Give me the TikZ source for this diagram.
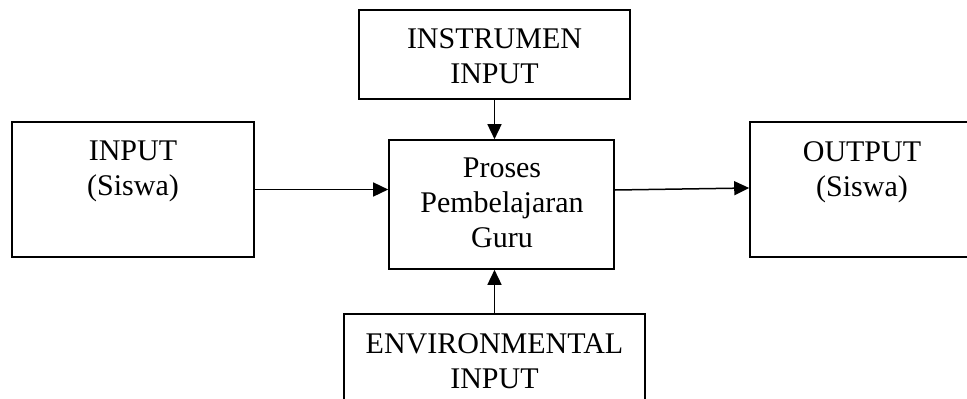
\documentclass[tikz,border=0pt]{standalone}
\usepackage{fontspec}
\setmainfont{Liberation Serif}
\usetikzlibrary{arrows.meta}
\begin{document}
\begin{tikzpicture}[x=1pt,y=-1pt,
  box/.style={draw, line width=1.6pt, rectangle, inner sep=0pt},
  lbl/.style={align=center, inner sep=0pt, anchor=north,
              font=\fontsize{30}{35}\selectfont},
  link/.style={line width=1.5pt, -{Triangle[length=15pt,width=14pt]}}]
\useasboundingbox (0,0) rectangle (967,399);

% boxes
\node[box, minimum width=271pt, minimum height=89pt]  (ins) at (494.5,54.5) {};
\node[box, minimum width=242pt, minimum height=135pt] (in)  at (133,189.5) {};
\node[box, minimum width=225pt, minimum height=129pt] (pr)  at (501.5,204.5) {};
\node[box, minimum width=225pt, minimum height=135pt] (out) at (862.5,189.5) {};
\node[box, minimum width=301pt, minimum height=116pt] (env) at (494.5,372) {};

% labels
\node[lbl] (tins) at (494.5,28)  {INSTRUMEN\\INPUT};
\node[lbl] (tin)  at (133,141)   {INPUT\\(Siswa)};
\node[lbl] (tpr)  at (502,158)   {Proses\\Pembelajaran\\Guru};
\node[lbl] (tout) at (862,141)   {OUTPUT\\(Siswa)};
\node[lbl] (tenv) at (494.5,333) {ENVIRONMENTAL\\INPUT};

% connectors
\draw[link] (ins.south) -- (ins.south |- pr.north);
\draw[link] (in.east) -- (in.east -| pr.west);
\draw[link] ([yshift=14.5pt]pr.east) -- ([yshift=1.5pt]out.west);
\draw[link] (env.north) -- (env.north |- pr.south);
\end{tikzpicture}
\end{document}
